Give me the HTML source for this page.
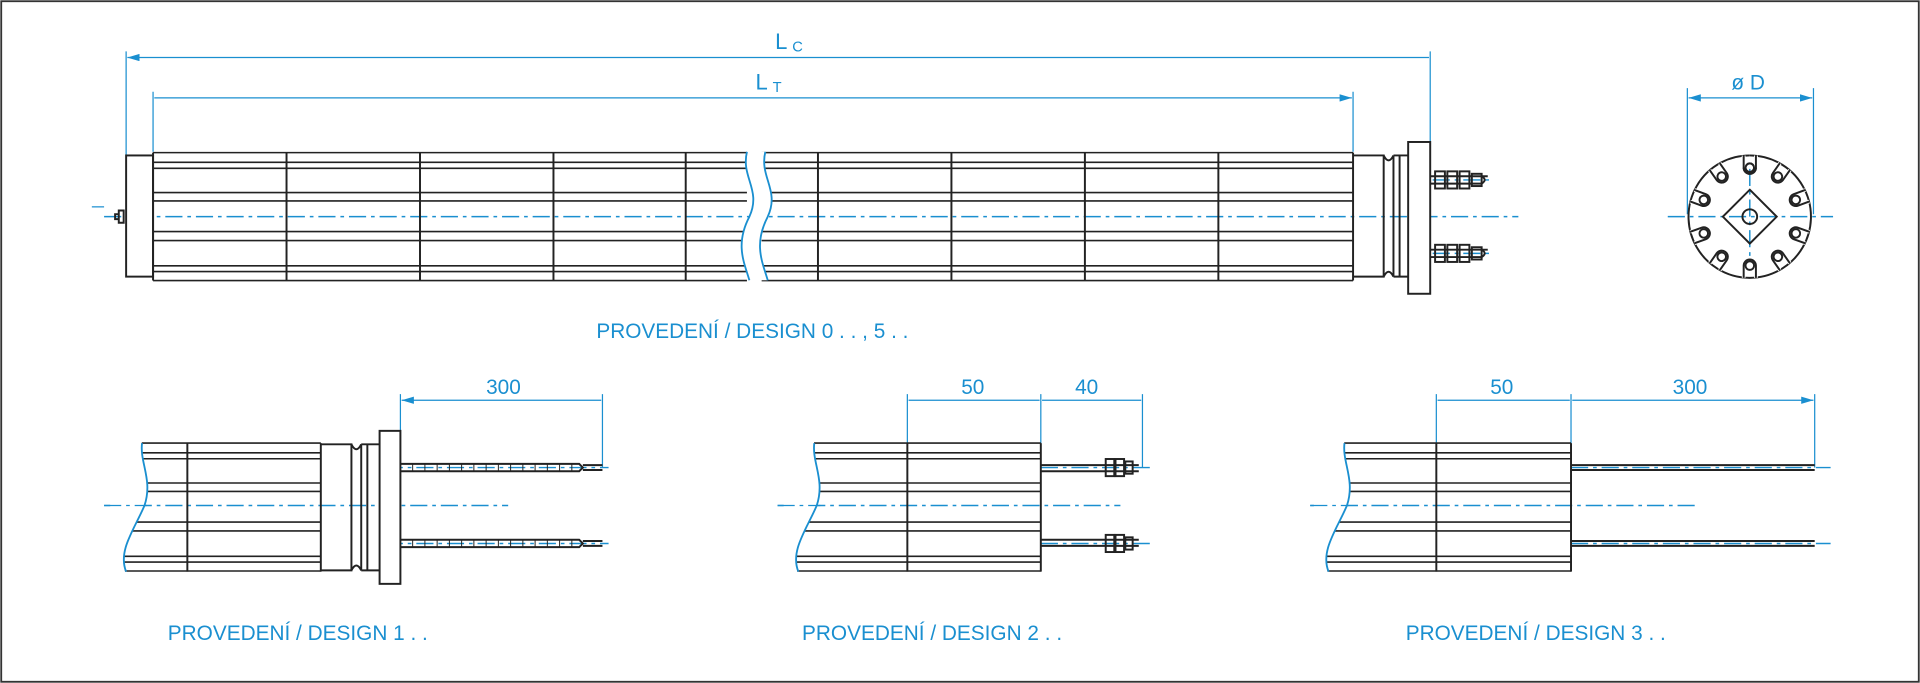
<!DOCTYPE html>
<html><head><meta charset="utf-8"><style>
html,body{margin:0;padding:0;background:#fff;}
svg{display:block}
text{font-family:"Liberation Sans",sans-serif;fill:#1a8fd0}
</style></head><body>
<svg width="1920" height="683" viewBox="0 0 1568 558" preserveAspectRatio="none" xmlns="http://www.w3.org/2000/svg">
<defs>
<g id="h" stroke="#222" stroke-width="1.6" fill="none">
<path vector-effect="non-scaling-stroke" d="M0 0H1M0 7.9H1M0 12.8H1M0 32.6H1M0 39.5H1M0 64.5H1M0 71.8H1M0 92.5H1M0 97.2H1M0 104.5H1"/>
</g>
<marker id="a" viewBox="0 0 10 6" refX="10" refY="3" markerWidth="10" markerHeight="6" orient="auto-start-reverse" markerUnits="userSpaceOnUse"><path d="M0 0L10 3L0 6z" fill="#1a8fd0"/></marker>
</defs>
<rect x="1" y="1" width="1566" height="556" fill="none" stroke="#333" stroke-width="1.5"/>
<g stroke="#1a8fd0" stroke-width="1" fill="none">
<path d="M103 127V42M1168 116V42M125 124V75M1105 124V75" />
<path d="M104 47H1167M126 80H1104" marker-start="url(#a)" marker-end="url(#a)"/>
<path d="M1378 175V72M1481 175V72"/>
<path d="M1379 80H1480" marker-start="url(#a)" marker-end="url(#a)"/>
<g stroke-dasharray="14 4 3 4" stroke-width="1.2">
<path d="M85 177H1240M1170 147H1218M1170 207H1218M1362 177H1497M1429 138V210"/>
<path d="M85 413H415M315 382H497M315 444H497M635 413H915M850 382H940M850 444H940M1070 413H1385M1283 382H1495M1283 444H1495"/>
</g>
<path d="M75 169H85"/>
<path d="M327 352V322M492 382V322M741 362V322M850 362V322M933 382V322M1173 362V322M1283 362V322M1482 382V322"/>
<path d="M328 327H491M742 327H849M851 327H932M1174 327H1282M1284 327H1481" marker-start="url(#a)" marker-end="url(#a)"/>
</g>
<g fill="none" stroke="#222" stroke-width="1.6">
<use href="#h" transform="translate(125 124.7) scale(485 1)"/>
<use href="#h" transform="translate(622 124.7) scale(483 1)"/>
<rect x="103" y="127" width="22" height="99" fill="#fff"/>
<path d="M101 172h-4v10h4zM97 175h-3v4h3"/>
<path d="M125 124.7V229.2M234 124.7V229.2M343 124.7V229.2M452 124.7V229.2M560 124.7V229.2M668 124.7V229.2M777 124.7V229.2M886 124.7V229.2M995 124.7V229.2M1105 124.7V229.2"/>
<path d="M1105 127H1130V226H1105M1130 127V226M1138 127V226M1130 127q4 8 8 0M1130 226q4 -8 8 0"/>
<rect x="1150" y="116" width="18" height="124" fill="#fff"/>
<path d="M1138 127H1150M1138 226H1150M1143 127V226"/>
<g id="t1"><rect x="1172" y="140" width="8" height="14"/><rect x="1182" y="140" width="8" height="14"/><rect x="1192" y="140" width="8" height="14"/><rect x="1202" y="142" width="8" height="10"/><path d="M1210 144q5 3 0 6"/><path d="M1168 144H1215M1168 150H1210"/></g>
<use href="#t1" transform="translate(0 60)"/>
<path d="M1429 127 A50 50 0 1 1 1428.9 127" />
<path d="M1429 155L1451 177L1429 199L1407 177Z"/>
<circle cx="1429" cy="177" r="6"/>
<g id="sl"><path d="M1424 127v10M1434 127v10" stroke="#fff" stroke-width="3"/><path d="M1424 127v10a5 5 0 0 0 10 0v-10"/><circle cx="1429" cy="137" r="3.5"/></g>
<use href="#sl" transform="rotate(35 1429 177)"/><use href="#sl" transform="rotate(70 1429 177)"/><use href="#sl" transform="rotate(110 1429 177)"/><use href="#sl" transform="rotate(145 1429 177)"/><use href="#sl" transform="rotate(180 1429 177)"/><use href="#sl" transform="rotate(215 1429 177)"/><use href="#sl" transform="rotate(250 1429 177)"/><use href="#sl" transform="rotate(290 1429 177)"/><use href="#sl" transform="rotate(325 1429 177)"/>
<use href="#sl"/>
<!-- design1 -->
<use href="#h" transform="translate(95 362) scale(167 1)"/>
<path d="M153 362V467M262 362V467M262 363H287V466H262M287 363V466M295 363V466M287 363q4 8 8 0M287 466q4 -8 8 0M295 363H310M295 466H310M300 363V466"/>
<rect x="310" y="352" width="17" height="125" fill="#fff"/>
<path d="M327 379H473l3 3l-3 3H327M327 441H473l3 3l-3 3H327M476 380H492M476 384H492M476 442H492M476 446H492"/>
<path d="M337 379v6M347 379v6M357 379v6M367 379v6M377 379v6M387 379v6M397 379v6M407 379v6M417 379v6M427 379v6M437 379v6M447 379v6M457 379v6M467 379v6M337 441v6M347 441v6M357 441v6M367 441v6M377 441v6M387 441v6M397 441v6M407 441v6M417 441v6M427 441v6M437 441v6M447 441v6M457 441v6M467 441v6" stroke-width="0.8"/>
<!-- design2 -->
<use href="#h" transform="translate(645 362) scale(205 1)"/>
<path d="M741 362V467M850 362V467"/>
<path d="M850 380H930M850 385H930M850 441H930M850 446H930"/>
<rect x="903" y="375" width="7" height="14"/><rect x="911" y="375" width="7" height="14"/><rect x="919" y="377" width="6" height="10"/>
<rect x="903" y="437" width="7" height="14"/><rect x="911" y="437" width="7" height="14"/><rect x="919" y="439" width="6" height="10"/>
<!-- design3 -->
<use href="#h" transform="translate(1078 362) scale(205 1)"/>
<path d="M1173 362V467M1283 362V467"/>
<path d="M1283 380H1482M1283 384H1482M1283 442H1482M1283 446H1482"/>
</g>
<!-- masks left of break -->
<g fill="#fff" stroke="none">
<path d="M90 358H116C114 378 125 392 118 413C110 432 96 450 103 470H90Z"/>
<path d="M640 358H665C663 378 674 392 667 413C659 432 645 450 652 470H640Z"/>
<path d="M1073 358H1098C1096 378 1107 392 1100 413C1092 432 1078 450 1085 470H1073Z"/>
</g>
<g stroke="#1a8fd0" stroke-width="1" stroke-dasharray="14 4 3 4" fill="none">
<path d="M85 413H120M635 413H670M1070 413H1102"/>
</g>
<g fill="#fff" stroke="#1a8fd0" stroke-width="1.5">
<path d="M610 124C605 145 622 155 612 177C600 200 608 215 612 229H627C623 215 615 200 627 177C637 155 620 145 625 124Z" fill="#fff" stroke="none"/>
<path d="M610 124C605 145 622 155 612 177C600 200 608 215 612 229M625 124C620 145 637 155 627 177C615 200 623 215 627 229" fill="none"/>
<path d="M116 362C114 378 125 392 118 413C110 432 96 450 103 467" fill="none"/>
<path d="M665 362C663 378 674 392 667 413C659 432 645 450 652 467" fill="none"/>
<path d="M1098 362C1096 378 1107 392 1100 413C1092 432 1078 450 1085 467" fill="none"/>
</g>
<g font-size="17">
<text x="633" y="40" font-size="18">L</text><text x="647" y="42" font-size="12">C</text>
<text x="617" y="73" font-size="18">L</text><text x="631" y="75" font-size="12">T</text>
<text x="1414" y="73" font-size="17">ø D</text>
<text x="487" y="276">PROVEDENÍ / DESIGN  0 . . , 5 . .</text>
<text x="397" y="322">300</text>
<text x="785" y="322">50</text><text x="878" y="322">40</text>
<text x="1217" y="322">50</text><text x="1366" y="322">300</text>
<text x="137" y="523">PROVEDENÍ / DESIGN  1 . .</text>
<text x="655" y="523">PROVEDENÍ /  DESIGN  2 . .</text>
<text x="1148" y="523">PROVEDENÍ / DESIGN  3 . .</text>
</g>
</svg>
</body></html>
